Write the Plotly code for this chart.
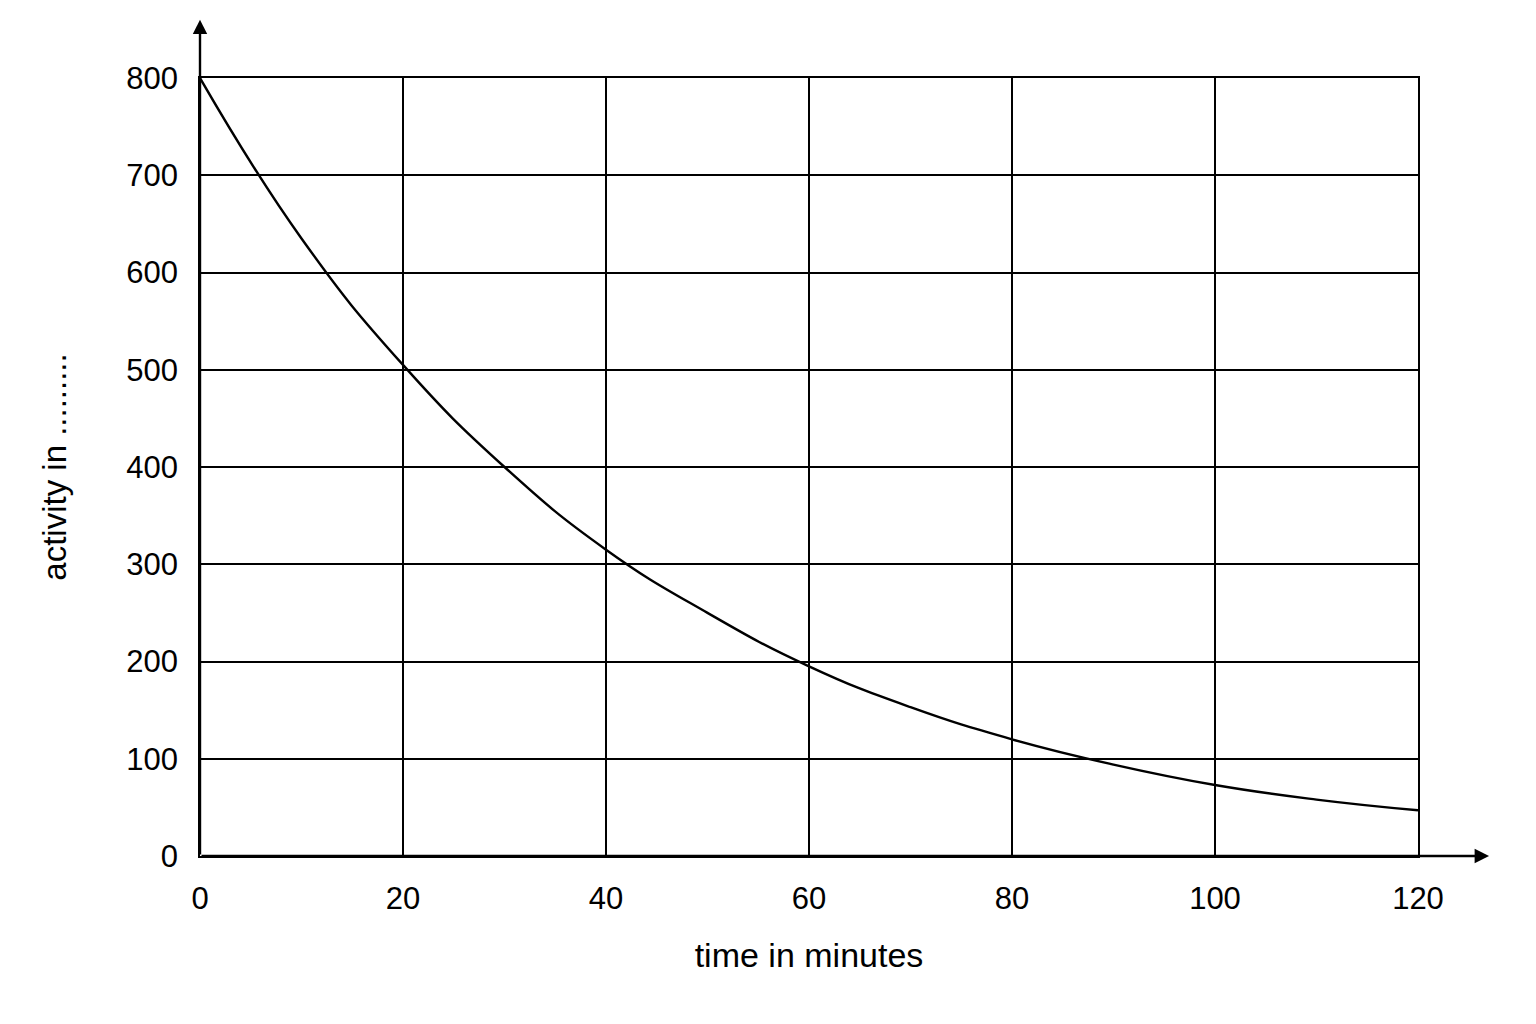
import plotly.graph_objects as go

# time in minutes and activity
time_min = [0, 10, 20, 30, 40, 50, 60, 70, 80, 90, 100, 110, 120]
activity = [800, 635, 505, 400, 315, 250, 195, 153, 120, 94, 73, 58, 47]

x_ticks = [0, 20, 40, 60, 80, 100, 120]
y_ticks = [0, 100, 200, 300, 400, 500, 600, 700, 800]

fig = go.Figure()
fig.add_trace(go.Scatter(x=time_min, y=activity, mode='lines',
                         line=dict(color='black', width=2.4, shape='spline', smoothing=1.3),
                         showlegend=False, hoverinfo='skip'))

axis_style = dict(showgrid=True, gridcolor='black', gridwidth=1.6, zeroline=False,
                  showline=True, mirror=True, linecolor='black', linewidth=1.6,
                  ticks='', tickfont=dict(size=31, color='black', family='Liberation Sans'))

fig.update_xaxes(range=[0, 120], tickvals=x_ticks, ticklabelstandoff=14,
                 title=dict(text='time in minutes', font=dict(size=34, color='black',
                 family='Liberation Sans'), standoff=28), **axis_style)
fig.update_yaxes(range=[0, 800], tickvals=y_ticks, ticklabelstandoff=14,
                 title=dict(text='activity in .........', font=dict(size=33, color='black',
                 family='Liberation Sans'), standoff=50), **axis_style)

# axis arrows
fig.add_annotation(x=127, y=0, ax=0, ay=0, xref='x', yref='y', axref='x', ayref='y',
                   showarrow=True, arrowhead=2, arrowsize=1.2, arrowwidth=2.4, arrowcolor='black', text='')
fig.add_annotation(x=0, y=860, ax=0, ay=0, xref='x', yref='y', axref='x', ayref='y',
                   showarrow=True, arrowhead=2, arrowsize=1.2, arrowwidth=2.4, arrowcolor='black', text='')

fig.update_layout(width=1536, height=1024, plot_bgcolor='white', paper_bgcolor='white',
                  margin=dict(l=192, r=126, t=70, b=176))

fig.write_html("out.html")
